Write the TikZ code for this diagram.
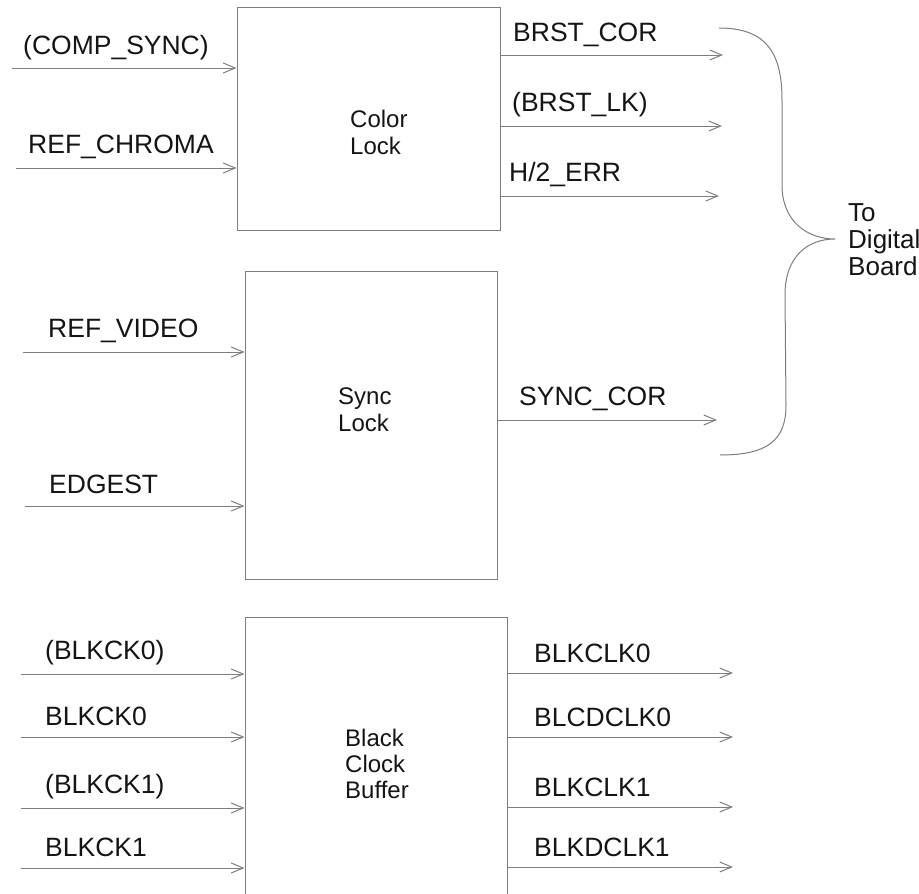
\documentclass[tikz,border=0pt]{standalone}
\usepackage{fontspec}
\setmainfont{Liberation Sans}
\usepackage{tikz}
\usetikzlibrary{positioning,arrows.meta,calc}
\definecolor{wiregray}{RGB}{125,125,125}
\definecolor{inkgray}{RGB}{20,20,20}
\tikzset{
  block/.style={draw=wiregray, line width=1pt, inner sep=0pt},
  blocktxt/.style={anchor=west, align=left, inner sep=0pt, text=inkgray,
                   font=\fontsize{24}{27}\selectfont},
  sig/.style={-{Straight Barb[length=12pt, width=10pt]}, line width=1pt, wiregray},
  siglbl/.style={anchor=west, inner sep=0pt, text=inkgray,
                 font=\fontsize{26.5}{30}\selectfont},
  bracepath/.style={line width=1pt, wiregray}
}

\begin{document}
\begin{tikzpicture}[x=1pt, y=-1pt]
    \clip (0,0) rectangle (919,894);
    % blocks
    \node[block, minimum width=263pt, minimum height=223pt] (colorlock) at (368.5,118.5) {};
    \node[block, minimum width=252pt, minimum height=308pt] (synclock) at (371,425) {};
    \node[block, minimum width=262pt, minimum height=300pt] (clkbuf) at (376,767) {};
    \node[blocktxt] (colortxt) at (350,132) {Color\\Lock};
    \node[blocktxt] (synctxt) at (338,410) {Sync\\Lock};
    \node[blocktxt, font=\fontsize{24}{26}\selectfont] (clktxt) at (345,764) {Black\\Clock\\Buffer};
    % color lock
    \coordinate (compsync) at (12,68);
    \coordinate (refchroma) at (16,168);
    \draw[sig] (compsync) -- (compsync -| colorlock.west);
    \draw[sig] (refchroma) -- (refchroma -| colorlock.west);
    \node[siglbl] (compsynclbl) at (23,48) {(COMP\_SYNC)};
    \node[siglbl] (refchromalbl) at (28,147) {REF\_CHROMA};
    \coordinate (brstcor) at (723,55);
    \coordinate (brstlk) at (722,126);
    \coordinate (herr) at (719,196);
    \draw[sig] (brstcor -| colorlock.east) -- (brstcor);
    \draw[sig] (brstlk -| colorlock.east) -- (brstlk);
    \draw[sig] (herr -| colorlock.east) -- (herr);
    \node[siglbl] (brstcorlbl) at (513,35) {BRST\_COR};
    \node[siglbl] (brstlklbl) at (512,105) {(BRST\_LK)};
    \node[siglbl] (herrlbl) at (509,175) {H/2\_ERR};
    % sync lock
    \coordinate (refvideo) at (23,352);
    \coordinate (edgest) at (25,506);
    \coordinate (synccor) at (717,420);
    \draw[sig] (refvideo) -- (refvideo -| synclock.west);
    \draw[sig] (edgest) -- (edgest -| synclock.west);
    \draw[sig] (synccor -| synclock.east) -- (synccor);
    \node[siglbl] (refvideolbl) at (48,331) {REF\_VIDEO};
    \node[siglbl] (edgestlbl) at (49,484) {EDGEST};
    \node[siglbl] (synccorlbl) at (519,399) {SYNC\_COR};
    % brace to digital board
    \draw[bracepath] (719,28) .. controls (768,28) and (782,55) .. (782,100)
      -- (782,185) .. controls (782,222) and (808,239) .. (835,239)
      .. controls (808,239) and (785,256) .. (785,295)
      -- (786,405) .. controls (786,440) and (768,455) .. (720,455);
    \node[siglbl, align=left, font=\fontsize{26}{27}\selectfont] (digital) at (848,240) {To\\Digital\\Board};
    % black clock buffer
    \foreach \y/\t [count=\i] in {674/{(BLKCK0)}, 737/{BLKCK0}, 808/{(BLKCK1)}, 868/{BLKCK1}} {
      \coordinate (ckin\i) at (21,\y);
      \draw[sig] (ckin\i) -- (ckin\i -| clkbuf.west);
      \node[siglbl] (ckinlbl\i) at (45,\y-21) {\t};
    }
    \foreach \y/\t [count=\i] in {673/BLKCLK0, 737/BLCDCLK0, 807/BLKCLK1, 867/BLKDCLK1} {
      \coordinate (ckout\i) at (733,\y);
      \draw[sig] (ckout\i -| clkbuf.east) -- (ckout\i);
      \node[siglbl] (ckoutlbl\i) at (534,\y-20) {\t};
    }
\end{tikzpicture}
\end{document}
